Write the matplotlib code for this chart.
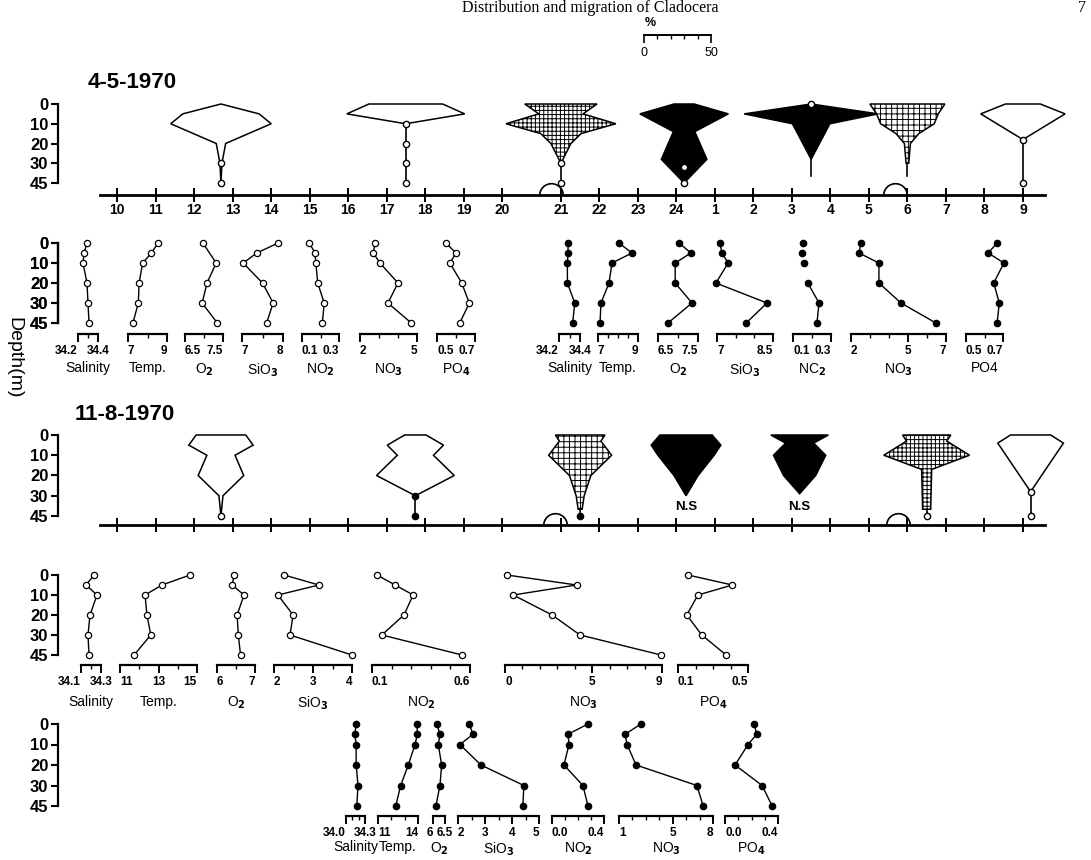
import numpy as np
import matplotlib
matplotlib.use('Agg')
import matplotlib.pyplot as plt
from matplotlib.path import Path
from matplotlib.ticker import NullLocator

plt.rcParams['font.family'] = ['Liberation Sans', 'DejaVu Sans']
plt.rcParams['font.weight'] = 'bold'
plt.rcParams['hatch.linewidth'] = 0.7

W, H = 1091, 860
PX_PER_H = 38.5   # time axis: pixels per hour
X_H10 = 117       # pixel x of 10 h
PCT_H = 0.0348    # kite width: hours per 1 %

# ---------------- data ----------------
HOURS = list(range(10, 34))  # 10 ... 24, then 1 ... 9 of the next day
HOUR_LABELS = [str(h if h <= 24 else h - 24) for h in HOURS]
DEPTH_TICKS = [0, 10, 20, 30, 45]
DEPTHS = [0, 5, 10, 20, 30, 45]

# kite diagrams 4-5-1970 (kite width = % of catch)
TIMES_MAY = [12.7, 17.5, 21.0, 24.2, 27.5, 30.0, 33.0]
KDEP_MAY = [[0, 5, 10, 20, 30, 45], [0, 5, 10], [0, 5, 10, 15, 20, 30],
            [0, 5, 14, 28, 45], [0, 5, 10, 28], [0, 5, 10, 15, 20, 30], [0, 5, 18]]
KPCT_MAY = [[0, 57, 75, 7, 1.5, 0], [55, 88, 0], [54, 33, 82, 30, 15, 0],
            [15, 66, 16, 34, 0], [0, 100, 28, 0], [56, 46, 40, 17, 4.5, 2], [26, 63, 0]]
KFILL_MAY = ['open', 'open', 'grid', 'black', 'black', 'dots', 'open']
KNIL_MAY = [[30, 45], [10, 20, 30, 45], [30, 45], [33, 45], [0], [], [18, 45]]
KFULL_MAY = [[], [], [], [], [], [], []]
KEND_MAY = [45, 45, 45, 45, 40, 40, 45]
NS_MAY = [False] * 7
SUN_MAY = [20.83, 29.68]

# kite diagrams 11-8-1970
TIMES_AUG = [12.7, 17.75, 21.5, 24.25, 27.2, 30.5, 33.2]
KDEP_AUG = [[0, 5, 10, 20, 30, 45], [0, 5, 10, 20, 30], [0, 3, 10, 20, 30, 40],
            [0, 5, 10, 20, 30], [0, 4, 10, 20, 29], [0, 3, 10, 17, 40], [0, 4, 28]]
KPCT_AUG = [[37, 48, 21, 34, 3, 0], [16, 42, 27, 58, 0], [37, 31, 47, 16, 6, 3],
            [39, 52, 42, 18, 0], [43, 21, 39, 24, 0], [36, 30, 64, 7.5, 6], [30, 49, 0]]
KFILL_AUG = ['open', 'open', 'dots', 'black', 'black', 'grid', 'open']
KNIL_AUG = [[45], [], [], [], [], [45], [28, 45]]
KFULL_AUG = [[], [30, 45], [45], [], [], [], []]
KEND_AUG = [45, 45, 45, 30, 29, 45, 45]
NS_AUG = [False, False, False, True, True, False, False]
SUN_AUG = [20.9, 29.76]

# hydrography 4-5-1970, day (open) and night (filled), at DEPTHS
SAL_MAY_D = [34.29, 34.26, 34.25, 34.29, 34.30, 34.31]
TMP_MAY_D = [8.54, 8.2, 7.75, 7.57, 7.53, 7.25]
OX_MAY_D = [6.97, None, 7.32, 7.08, 6.95, 7.35]
SI_MAY_D = [7.88, 7.36, 7.03, 7.5, 7.76, 7.6]
N2_MAY_D = [0.14, 0.17, 0.175, 0.185, 0.22, 0.21]
N3_MAY_D = [2.79, 2.7, 3.05, 4.0, 3.47, 4.7]
PO_MAY_D = [0.547, 0.6, 0.568, 0.63, 0.67, 0.62]

SAL_MAY_N = [34.286, 34.286, 34.28, 34.28, 34.35, 34.33]
TMP_MAY_N = [8.05, 8.7, 7.7, 7.55, 7.15, 7.1]
OX_MAY_N = [7.03, 7.32, 6.93, 6.93, 7.35, 6.75]
SI_MAY_N = [7.08, 7.13, 7.3, 6.97, 8.34, 7.78]
N2_MAY_N = [0.153, 0.147, 0.158, 0.178, 0.237, 0.226]
N3_MAY_N = [2.53, 2.42, 3.47, 3.47, 4.63, 6.47]
PO_MAY_N = [0.668, 0.62, 0.705, 0.65, 0.68, 0.668]

# hydrography 11-8-1970
SAL_AUG_D = [34.23, 34.15, 34.26, 34.19, 34.17, 34.18]
TMP_AUG_D = [14.64, 13.18, 12.3, 12.4, 12.6, 11.73]
OX_AUG_D = [6.45, 6.4, 6.71, 6.53, 6.56, 6.62]
SI_AUG_D = [2.26, 3.15, 2.1, 2.49, 2.41, 4.0]
N2_AUG_D = [0.125, 0.218, 0.31, 0.263, 0.15, 0.56]
N3_AUG_D = [0.1, 4.1, 0.47, 2.7, 4.3, 8.95]
PO_AUG_D = [0.157, 0.41, 0.214, 0.15, 0.236, 0.375]

SAL_AUG_N = [34.16, 34.14, 34.16, 34.16, 34.19, 34.17]
TMP_AUG_N = [13.93, 13.95, 13.78, 13.27, 12.7, 12.33]
OX_AUG_N = [6.16, 6.29, 6.22, 6.36, 6.29, 6.12]
SI_AUG_N = [2.41, 2.56, 2.07, 2.85, 4.44, 4.4]
N2_AUG_N = [0.277, 0.123, 0.131, 0.092, 0.238, 0.277]
N3_AUG_N = [2.64, 1.45, 1.6, 2.27, 6.8, 7.27]
PO_AUG_N = [0.22, 0.24, 0.174, 0.076, 0.28, 0.356]

fig = plt.figure(figsize=(W / 100, H / 100), dpi=100)


def d2lev(d):
    d = np.asarray(d, float)
    return np.where(d > 45, 4 + (d - 45) / 15,
                    np.where(d < 0, d / 10, np.interp(d, DEPTH_TICKS, [0, 1, 2, 3, 4])))


def lev2d(v):
    v = np.asarray(v, float)
    return np.where(v > 4, 45 + (v - 4) * 15,
                    np.where(v < 0, v * 10, np.interp(v, [0, 1, 2, 3, 4], DEPTH_TICKS)))


def tpos(h):
    # time axis is drawn a little stretched between 20 and 21 h
    h = np.asarray(h, float)
    return h + 0.53 * np.clip(h - 20, 0, 1)


def xpos(px):
    return 10 + (px - X_H10) / PX_PER_H


def px_axes(x0, x1, y0, y1):
    ax = fig.add_axes([x0 / W, 1 - y1 / H, (x1 - x0) / W, (y1 - y0) / H])
    ax.patch.set_alpha(0)
    for s in ax.spines.values():
        s.set_visible(False)
    ax.set_xticks([])
    ax.set_yticks([])
    return ax


def depth_scale(ax, y0, y45, ybot):
    per = (y45 - y0) / 4
    ax.set_yscale('function', functions=(d2lev, lev2d))
    ax.set_ylim(float(lev2d(4 + (ybot - y45) / per)), 0)
    ax.yaxis.set_major_locator(NullLocator())
    ax.yaxis.set_minor_locator(NullLocator())


def depth_spine(ax):
    ax.spines['left'].set_visible(True)
    ax.spines['left'].set_linewidth(1.6)
    ax.spines['left'].set_bounds(0, 45)
    ax.set_yticks(DEPTH_TICKS)
    ax.set_yticklabels([str(d) for d in DEPTH_TICKS])
    ax.tick_params(axis='y', direction='out', length=5, width=1.5, labelsize=12, pad=2)


FILLS = {'open': dict(facecolor='white', edgecolor='black'),
         'black': dict(facecolor='black', edgecolor='black'),
         'grid': dict(facecolor='white', edgecolor='black', hatch='++++'),
         'dots': dict(facecolor='white', edgecolor='black', hatch='+++')}

SEMI = Path.arc(0, 180)


def kite_row(y0, y45, yline, times, kdep, kpct, kfill, knil, kfull, kend, ns, suns, labels):
    ax = px_axes(58, 1080, y0, yline)
    depth_scale(ax, y0, y45, yline)
    ax.set_xlim(xpos(58), xpos(1080))
    depth_spine(ax)
    b = ax.spines['bottom']
    b.set_visible(True)
    b.set_linewidth(2)
    b.set_bounds(xpos(100), xpos(1045))
    ax.set_xticks(tpos(HOURS))
    ax.set_xticklabels(HOUR_LABELS if labels else [])
    ax.tick_params(axis='x', direction='inout', length=10, width=1.4, labelsize=10, pad=1)
    for t, dep, pct, fl, nil, full, end, lab in zip(times, kdep, kpct, kfill, knil,
                                                   kfull, kend, ns):
        c = float(tpos(t))
        d = np.array(dep, float)
        half = np.array(pct, float) * PCT_H / 2
        xs = np.r_[c - half, (c + half)[::-1]]
        ys = np.r_[d, d[::-1]]
        ax.fill(xs, ys, lw=1.1, zorder=3, clip_on=False, **FILLS[fl])
        if end > d[-1]:
            ax.plot([c, c], [d[-1], end], color='black', lw=1.2, zorder=3)
        if nil:
            ax.plot([c] * len(nil), nil, 'o', mfc='white', mec='black', ms=4.5,
                    mew=1, zorder=4, clip_on=False)
        if full:
            ax.plot([c] * len(full), full, 'o', color='black', ms=4.5, zorder=4,
                    clip_on=False)
        if lab:
            ax.text(c, 38, 'N.S', ha='center', va='center', fontsize=9.5)
    ax.plot(tpos(suns), [0, 0], transform=ax.get_xaxis_transform(), ls='none',
            marker=SEMI, ms=17, mfc='none', mec='black', mew=1.2, clip_on=False)
    return ax


def profile_row(y0, y45, yb, panels, filled, name_pad):
    ax = px_axes(58, 70, y0, yb)
    depth_scale(ax, y0, y45, yb)
    depth_spine(ax)
    for vals, x0, x1, lo, hi, major, mlabels, minor, name, join in panels:
        a = px_axes(x0, x1, y0, yb)
        depth_scale(a, y0, y45, yb)
        a.set_xlim(lo, hi)
        a.spines['bottom'].set_visible(True)
        a.spines['bottom'].set_linewidth(1.6)
        a.set_xticks(major)
        texts = a.set_xticklabels(mlabels)
        # end labels sit inside wide brackets, outside/centred on narrow ones
        if x1 - x0 < 25:
            texts[0].set_ha('right')
        else:
            texts[0].set_ha('left')
            texts[-1].set_ha('right')
        a.set_xticks(minor, minor=True)
        a.tick_params(axis='x', which='major', length=6, width=1.4, pad=2, labelsize=8.5)
        a.tick_params(axis='x', which='minor', length=3, width=1)
        a.set_xlabel(name, fontsize=10, labelpad=name_pad)
        dd = [d for d, v in zip(DEPTHS, vals) if v is not None]
        vv = [v for v in vals if v is not None]
        a.plot(vv[join:], dd[join:], color='black', lw=1, clip_on=False)
        if filled:
            a.plot(vv, dd, 'o', color='black', ms=4.5, clip_on=False)
        else:
            a.plot(vv, dd, 'o', mfc='white', mec='black', ms=4.5, mew=0.9, clip_on=False)


# ---------------- layout ----------------
fig.text(590 / W, 1 - 0.5 / H, 'Distribution and migration of Cladocera', ha='center',
         va='top', fontsize=11.5, family='Liberation Serif', fontweight='normal')
fig.text(1082 / W, 1 - 0.5 / H, '7', ha='center', va='top', fontsize=11.5,
         family='Liberation Serif', fontweight='normal')

axs = px_axes(644, 644 + 50 * PCT_H * PX_PER_H, 26, 35)
axs.set_xlim(0, 50)
axs.spines['bottom'].set_visible(True)
axs.spines['bottom'].set_linewidth(1.4)
axs.set_xticks([0, 50])
axs.set_xticklabels(['0', '50'], fontweight='normal')
axs.set_xticks([10, 20, 30, 40], minor=True)
axs.tick_params(axis='x', which='major', length=6, width=1.2, labelsize=9, pad=3)
axs.tick_params(axis='x', which='minor', length=3, width=1)
fig.text(650 / W, 1 - 23 / H, '%', ha='center', va='center', fontsize=9)

fig.text(88 / W, 1 - 83 / H, '4-5-1970', ha='left', va='center', fontsize=16)
fig.text(75 / W, 1 - 415 / H, '11-8-1970', ha='left', va='center', fontsize=16)
fig.text(14 / W, 1 - 358 / H, 'Depth(m)', ha='center', va='center', rotation=-90,
         fontsize=14, fontweight='normal')

kite_row(104, 183, 195, TIMES_MAY, KDEP_MAY, KPCT_MAY, KFILL_MAY, KNIL_MAY, KFULL_MAY,
         KEND_MAY, NS_MAY, SUN_MAY, True)
kite_row(435, 516, 525, TIMES_AUG, KDEP_AUG, KPCT_AUG, KFILL_AUG, KNIL_AUG, KFULL_AUG,
         KEND_AUG, NS_AUG, SUN_AUG, False)

profile_row(243, 323, 334, [
    (SAL_MAY_D, 78, 98, 34.2, 34.4, [34.2, 34.4], ['34.2', '34.4'], [34.3], 'Salinity', 0),
    (TMP_MAY_D, 128, 167, 7, 9, [7, 9], ['7', '9'], [8], 'Temp.', 0),
    (OX_MAY_D, 185, 223, 6.5, 7.5, [6.5, 7.5], ['6.5', '7.5'], [7.0], 'O$_2$', 0),
    (SI_MAY_D, 242, 283, 7, 8, [7, 8], ['7', '8'], [7.5], 'SiO$_3$', 0),
    (N2_MAY_D, 302, 339, 0.1, 0.3, [0.1, 0.3], ['0.1', '0.3'], [0.2], 'NO$_2$', 0),
    (N3_MAY_D, 360, 417, 2, 5, [2, 5], ['2', '5'], [3, 4], 'NO$_3$', 0),
    (PO_MAY_D, 437, 475, 0.5, 0.7, [0.5, 0.7], ['0.5', '0.7'], [0.6], 'PO$_4$', 0),
], False, 3)
profile_row(243, 323, 334, [
    (SAL_MAY_N, 559, 580, 34.2, 34.4, [34.2, 34.4], ['34.2', '34.4'], [34.3], 'Salinity', 0),
    (TMP_MAY_N, 598, 638, 7, 9, [7, 9], ['7', '9'], [7.5, 8, 8.5], 'Temp.', 0),
    (OX_MAY_N, 658, 698, 6.5, 7.5, [6.5, 7.5], ['6.5', '7.5'], [7.0], 'O$_2$', 0),
    (SI_MAY_N, 717, 773, 7, 8.5, [7, 8.5], ['7', '8.5'], [7.5, 8], 'SiO$_3$', 0),
    (N2_MAY_N, 793, 831, 0.1, 0.3, [0.1, 0.3], ['0.1', '0.3'], [0.2], 'NC$_2$', 3),
    (N3_MAY_N, 851, 946, 2, 7, [2, 5, 7], ['2', '5', '7'], [3, 4, 6], 'NO$_3$', 0),
    (PO_MAY_N, 966, 1003, 0.5, 0.7, [0.5, 0.7], ['0.5', '0.7'], [0.6], 'PO4', 0),
], True, 3)
profile_row(575, 655, 665, [
    (SAL_AUG_D, 81, 101, 34.1, 34.3, [34.1, 34.3], ['34.1', '34.3'], [34.2], 'Salinity', 0),
    (TMP_AUG_D, 120, 197, 11, 15, [11, 13, 15], ['11', '13', '15'], [12, 14], 'Temp.', 0),
    (OX_AUG_D, 217, 255, 6, 7, [6, 7], ['6', '7'], [6.5], 'O$_2$', 0),
    (SI_AUG_D, 274, 352, 2, 4, [2, 3, 4], ['2', '3', '4'], [2.5, 3.5], 'SiO$_3$', 0),
    (N2_AUG_D, 372, 470, 0.1, 0.6, [0.1, 0.6], ['0.1', '0.6'], [0.2, 0.3, 0.4, 0.5], 'NO$_2$', 0),
    (N3_AUG_D, 505, 662, 0, 9, [0, 5, 9], ['0', '5', '9'], [1, 2, 3, 4, 6, 7, 8], 'NO$_3$', 0),
    (PO_AUG_D, 678, 748, 0.1, 0.5, [0.1, 0.5], ['0.1', '0.5'], [0.2, 0.3, 0.4], 'PO$_4$', 0),
], False, 5)
profile_row(724, 806, 816, [
    (SAL_AUG_N, 346, 365, 34.0, 34.3, [34.0, 34.3], ['34.0', '34.3'], [34.1, 34.2], 'Salinity', 0),
    (TMP_AUG_N, 378, 418, 11, 14, [11, 14], ['11', '14'], [12, 13], 'Temp.', 0),
    (OX_AUG_N, 433, 445, 6, 6.5, [6, 6.5], ['6', '6.5'], [], 'O$_2$', 0),
    (SI_AUG_N, 458, 539, 2, 5, [2, 3, 4, 5], ['2', '3', '4', '5'], [2.5, 3.5, 4.5], 'SiO$_3$', 0),
    (N2_AUG_N, 552, 604, 0.0, 0.4, [0.0, 0.4], ['0.0', '0.4'], [0.1, 0.2, 0.3], 'NO$_2$', 0),
    (N3_AUG_N, 619, 713, 1, 8, [1, 5, 8], ['1', '5', '8'], [2, 3, 4, 6, 7], 'NO$_3$', 0),
    (PO_AUG_N, 725, 778, 0.0, 0.4, [0.0, 0.4], ['0.0', '0.4'], [0.1, 0.2, 0.3], 'PO$_4$', 0),
], True, 1)

fig.savefig('out.png', dpi=100, facecolor='white')
